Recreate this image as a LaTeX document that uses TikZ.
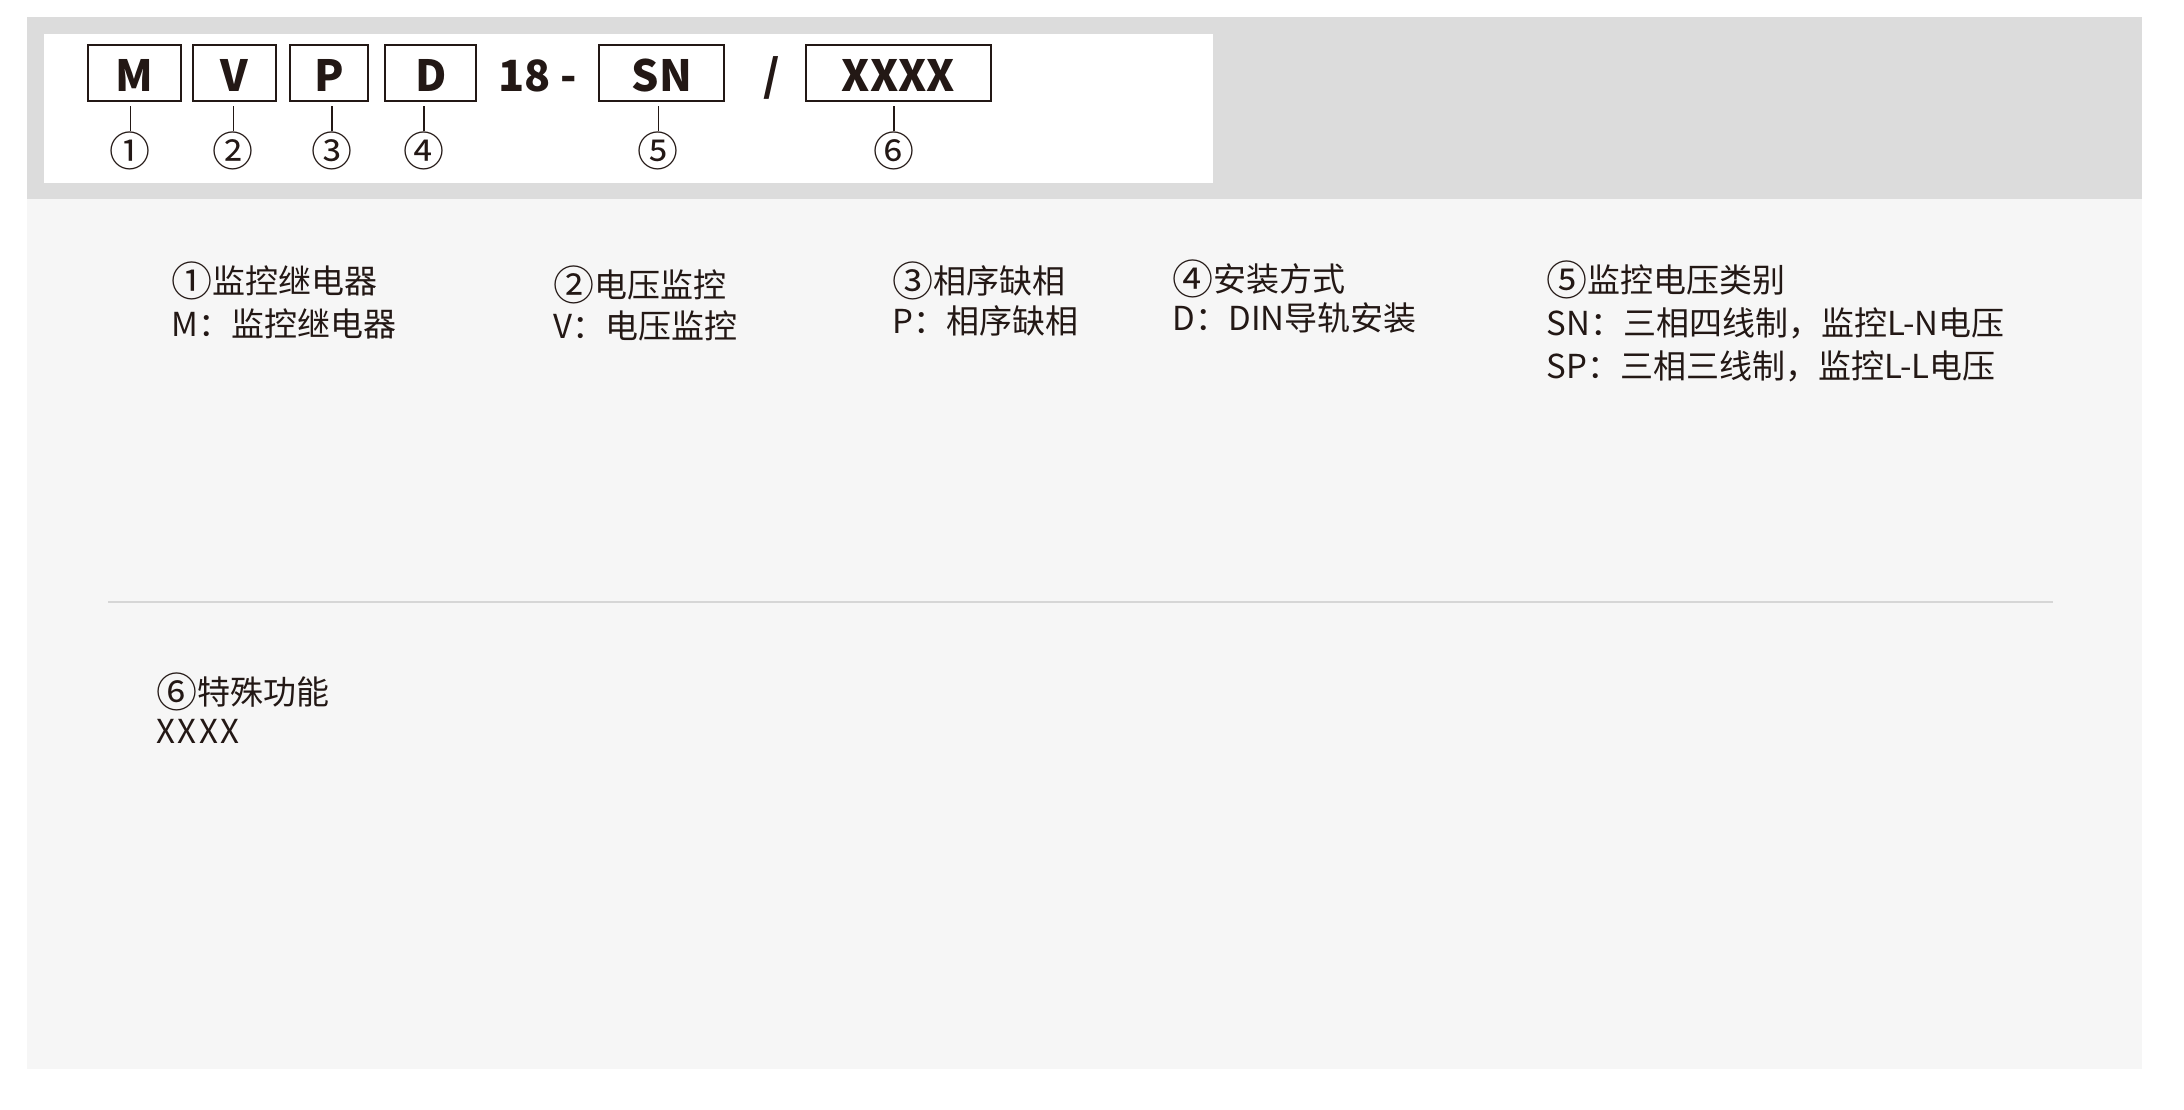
\documentclass[tikz,border=0pt]{standalone}
\usepackage{fontspec}
\setmainfont{Noto Sans CJK SC}
\definecolor{ink}{HTML}{231815}
\definecolor{band}{HTML}{DCDCDC}
\definecolor{panel}{HTML}{F6F6F6}
\definecolor{divider}{HTML}{D6D6D6}
\newcommand\codefont{\fontsize{43}{43}\selectfont\bfseries}
\newcommand\circfont{\fontsize{41}{41}\selectfont}
\newcommand\bodyfont{\fontsize{33}{39}\selectfont}
\newcommand\bodycirc[1]{{\circfont\raisebox{-3pt}{#1}}}
\tikzset{
  codebox/.style={draw=ink, line width=2pt, inner sep=0pt, minimum height=56pt,
    text height=37.4pt, text depth=0pt, font=\codefont, text=ink},
  codetext/.style={anchor=base, inner sep=0pt, font=\codefont, text=ink},
  circnum/.style={inner sep=0pt, font=\circfont, text=ink},
  conn/.style={draw=ink, line width=1.6pt, shorten <=4pt},
  bodytext/.style={anchor=base west, inner sep=0pt, font=\bodyfont, text=ink}
}
\begin{document}
\begin{tikzpicture}[x=1pt,y=-1pt]
\useasboundingbox (0,0) rectangle (2184,1109);
\fill[white] (0,0) rectangle (2184,1109);
% panels
\fill[panel] (27,199) rectangle (2142,1069);
\fill[band] (27,17) rectangle (2142,199);
\fill[white] (44,34) rectangle (1213,183);
\draw[divider, line width=1.5pt] (108,602) -- (2053,602);

% code boxes
\node[codebox, minimum width=92.4pt] (m) at (134.5,73) {M};
\node[codebox, minimum width=83.6pt] (v) at (234.5,73) {V};
\node[codebox, minimum width=78pt] (p) at (329.3,73) {P};
\node[codebox, minimum width=91.3pt] (d) at (430.7,73) {D};
\node[codetext, anchor=base west] (num) at (498,91.7) {18 -};
\node[codebox, minimum width=124.7pt] (sn) at (661.7,73) {SN};
\node[codetext] (slash) at (772,91.7) {/};
\node[codebox, minimum width=184.7pt] (xx) at (898.3,73) {XXXX};

% circled numbers
\node[circnum] (c1) at (130.3,150.5) {①};
\node[circnum] (c2) at (233.3,150.5) {②};
\node[circnum] (c3) at (331.7,150.5) {③};
\node[circnum] (c4) at (424,150.5) {④};
\node[circnum] (c5) at (658.3,150.5) {⑤};
\node[circnum] (c6) at (894,150.5) {⑥};

\draw[conn] (c1.north |- m.south) -- (c1.north);
\draw[conn] (c2.north |- v.south) -- (c2.north);
\draw[conn] (c3.north |- p.south) -- (c3.north);
\draw[conn] (c4.north |- d.south) -- (c4.north);
\draw[conn] (c5.north |- sn.south) -- (c5.north);
\draw[conn] (c6.north |- xx.south) -- (c6.north);

% descriptions
\node[bodytext] (t1a) at (171.7,293) {\bodycirc{①}监控继电器};
\node[bodytext] (t1b) at (171.7,336.7) {M：监控继电器};
\node[bodytext] (t2a) at (553,297) {\bodycirc{②}电压监控};
\node[bodytext] (t2b) at (553,338) {V：电压监控};
\node[bodytext] (t3a) at (892,293) {\bodycirc{③}相序缺相};
\node[bodytext] (t3b) at (892,333) {P：相序缺相};
\node[bodytext] (t4a) at (1172.6,291) {\bodycirc{④}安装方式};
\node[bodytext] (t4b) at (1172.6,330) {D：DIN导轨安装};
\node[bodytext] (t5a) at (1546.7,292) {\bodycirc{⑤}监控电压类别};
\node[bodytext] (t5b) at (1546.7,335.5) {SN：三相四线制，监控L-N电压};
\node[bodytext] (t5c) at (1546.7,378) {SP：三相三线制，监控L-L电压};
\node[bodytext] (t6a) at (156,704.5) {\bodycirc{⑥}特殊功能};
\node[bodytext] (t6b) at (156,743) {\addfontfeature{LetterSpace=8}XXXX};
\end{tikzpicture}
\end{document}
